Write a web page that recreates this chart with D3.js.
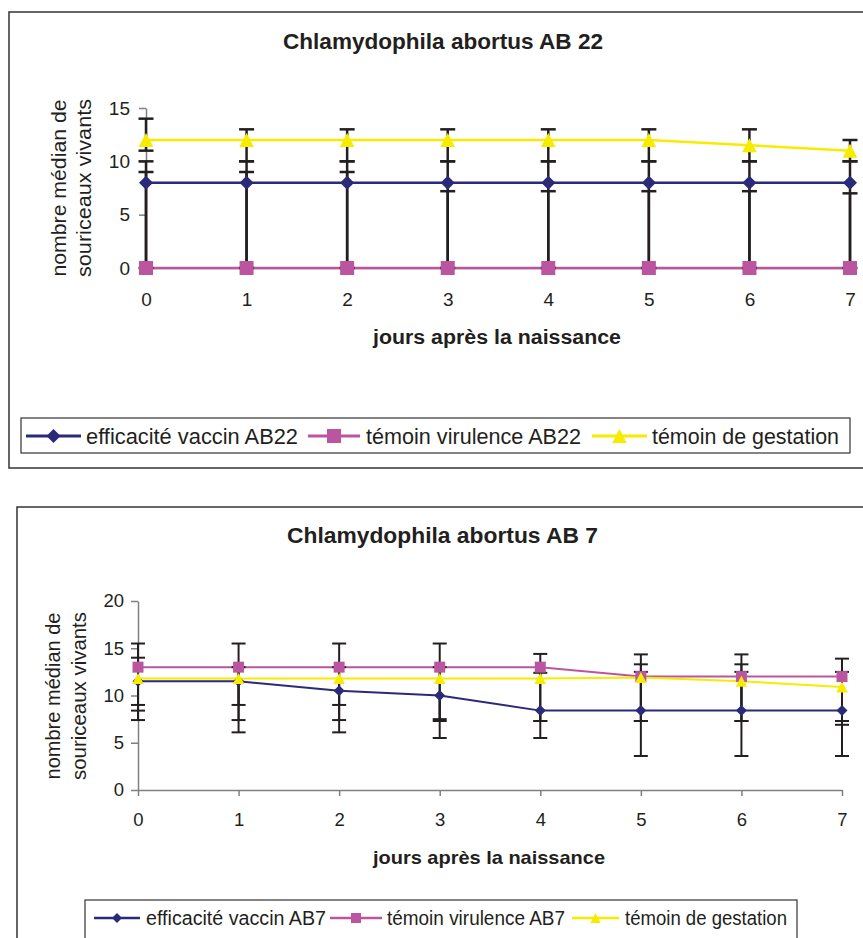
<!DOCTYPE html>
<html>
<head>
<meta charset="utf-8">
<script src="https://cdnjs.cloudflare.com/ajax/libs/d3/7.8.5/d3.min.js"></script>
<style>
  body { margin: 0; background: #fff; }
  svg { display: block; }
  text { font-family: "Liberation Sans", Arial, sans-serif; fill: #231f20; }
</style>
</head>
<body>
<svg id="chart" width="863" height="938"></svg>
<script>
// ---- data ----
const days = [0, 1, 2, 3, 4, 5, 6, 7];

// Chlamydophila abortus AB 22
const vaccinAB22 = [8, 8, 8, 8, 8, 8, 8, 8];
const vaccinAB22Lo = [0, 0, 0, 0, 0, 0, 0, 0];
const vaccinAB22Hi = [10, 10, 10, 10, 10, 10, 10, 10];
const virulenceAB22 = [0, 0, 0, 0, 0, 0, 0, 0];
const virulenceAB22Lo = [null, null, null, null, null, null, null, null];
const virulenceAB22Hi = [9, 9, 9, 7.2, 7.2, 7.2, 7.2, 7];
const gestationAB22 = [12, 12, 12, 12, 12, 12, 11.5, 11];
const gestationAB22Lo = [11, 10, 10, 10, 10, 10, 10, 10];
const gestationAB22Hi = [14, 13, 13, 13, 13, 13, 13, 12];

// Chlamydophila abortus AB 7
const vaccinAB7 = [11.5, 11.5, 10.5, 10, 8.4, 8.4, 8.4, 8.4];
const vaccinAB7Lo = [7.4, 6.1, 6.1, 5.5, 5.5, 3.6, 3.6, 3.6];
const vaccinAB7Hi = [null, null, null, null, null, 12.5, 12.5, null];
const virulenceAB7 = [13, 13, 13, 13, 13, 12, 12, 12];
const virulenceAB7Lo = [8.4, 7.4, 7.4, 7.3, 7.3, 7.3, 7.3, 6.9];
const virulenceAB7Hi = [15.5, 15.5, 15.5, 15.5, 14.4, 14.35, 14.35, 13.9];
const gestationAB7 = [11.8, 11.8, 11.8, 11.8, 11.8, 11.9, 11.5, 10.9];
const gestationAB7Lo = [9, 9, 9, 7.5, 7.3, 7.3, 7.3, 7.3];
const gestationAB7Hi = [14, 13, 13, 13, 12.4, 13.3, 13.3, 12.5];

const ticksAB22 = [0, 5, 10, 15];
const ticksAB7 = [0, 5, 10, 15, 20];

const COLORS = { vaccin: '#2a2a78', virulence: '#bb55a0', gestation: '#f7ec00' };
const ERR = '#231f20';

const svg = d3.select('#chart');

function markerPath(type, s) {
  const h = s / 2;
  if (type === 'diamond') return `M0,${-h}L${h},0L0,${h}L${-h},0Z`;
  if (type === 'square') return `M${-h},${-h}h${s}v${s}h${-s}Z`;
  return `M0,${-h}L${h * 1.05},${h}L${-h * 1.05},${h}Z`;
}

function drawChart(cfg) {
  const g = svg.append('g');

  g.append('rect')
    .attr('x', cfg.frame[0]).attr('y', cfg.frame[1])
    .attr('width', cfg.frame[2]).attr('height', cfg.frame[3])
    .attr('fill', 'none').attr('stroke', '#333').attr('stroke-width', 1.5);

  g.append('text')
    .attr('x', cfg.title.x).attr('y', cfg.title.y)
    .attr('text-anchor', 'middle')
    .attr('font-weight', 'bold').attr('font-size', cfg.title.size)
    .attr('textLength', cfg.title.len).attr('lengthAdjust', 'spacingAndGlyphs')
    .text(cfg.title.text);

  const x = d3.scaleLinear().domain([0, 7]).range(cfg.xRange);
  const y = d3.scaleLinear().domain([0, cfg.yMax]).range(cfg.yRange);

  // axes
  const yAxis = g.append('g')
    .attr('transform', `translate(${cfg.xRange[0]},0)`)
    .call(d3.axisLeft(y).tickValues(cfg.yTicks).tickFormat(d3.format('d'))
      .tickSize(7).tickSizeOuter(0).tickPadding(cfg.yPad));
  const xAxis = g.append('g')
    .attr('transform', `translate(0,${cfg.yRange[0]})`)
    .call(d3.axisBottom(x).tickValues(days).tickFormat(d3.format('d'))
      .tickSize(cfg.xTickSize).tickSizeOuter(0).tickPadding(cfg.xPad));
  [yAxis, xAxis].forEach(a => {
    a.select('.domain').attr('stroke', '#808080').attr('stroke-width', 1.5);
    a.selectAll('.tick line').attr('stroke', '#808080').attr('stroke-width', 1.5);
    a.selectAll('.tick text')
      .attr('font-family', cfg.tickFont).attr('font-size', cfg.tickSize).attr('fill', '#231f20');
  });

  // axis titles
  g.append('text')
    .attr('x', cfg.xLabel.x).attr('y', cfg.xLabel.y)
    .attr('text-anchor', 'middle').attr('font-weight', 'bold')
    .attr('font-size', cfg.xLabel.size)
    .attr('textLength', cfg.xLabel.len).attr('lengthAdjust', 'spacingAndGlyphs')
    .text('jours après la naissance');
  ['nombre médian de', 'souriceaux vivants'].forEach((t, i) => {
    g.append('text')
      .attr('transform', `translate(${cfg.yLabel.x[i]},${cfg.yLabel.y}) rotate(-90)`)
      .attr('text-anchor', 'middle').attr('font-size', cfg.yLabel.size)
      .attr('textLength', cfg.yLabel.len[i]).attr('lengthAdjust', 'spacingAndGlyphs')
      .text(t);
  });

  // series lines
  const line = d3.line().x((d, i) => x(days[i])).y(d => y(d));
  cfg.series.forEach(s => {
    g.append('path')
      .attr('d', line(s.values))
      .attr('fill', 'none').attr('stroke', COLORS[s.key]).attr('stroke-width', cfg.lineW);
  });

  // error bars
  const half = cfg.capW / 2;
  cfg.series.forEach(s => {
    s.values.forEach((v, i) => {
      const lo = s.lo[i] == null ? v : s.lo[i];
      const hi = s.hi[i] == null ? v : s.hi[i];
      const cx = x(days[i]);
      g.append('line')
        .attr('x1', cx).attr('x2', cx).attr('y1', y(lo)).attr('y2', y(hi))
        .attr('stroke', ERR).attr('stroke-width', cfg.errW);
      [s.lo[i], s.hi[i]].forEach(c => {
        if (c == null) return;
        g.append('line')
          .attr('x1', cx - half).attr('x2', cx + half).attr('y1', y(c)).attr('y2', y(c))
          .attr('stroke', ERR).attr('stroke-width', cfg.errW);
      });
    });
  });

  // markers
  cfg.series.forEach(s => {
    g.selectAll(null)
      .data(s.values)
      .enter()
      .append('path')
      .attr('transform', (d, i) => `translate(${x(days[i])},${y(d)})`)
      .attr('d', markerPath(s.marker, cfg.markerSize))
      .attr('fill', COLORS[s.key]);
  });

  // legend
  const L = cfg.legend;
  g.append('rect')
    .attr('x', L.box[0]).attr('y', L.box[1]).attr('width', L.box[2]).attr('height', L.box[3])
    .attr('fill', '#fff').attr('stroke', '#333').attr('stroke-width', 1.2);
  cfg.series.forEach((s, i) => {
    const it = L.items[i];
    g.append('line')
      .attr('x1', it.line[0]).attr('x2', it.line[1]).attr('y1', L.cy).attr('y2', L.cy)
      .attr('stroke', COLORS[s.key]).attr('stroke-width', cfg.lineW + 0.5);
    g.append('path')
      .attr('transform', `translate(${(it.line[0] + it.line[1]) / 2},${L.cy})`)
      .attr('d', markerPath(s.marker, L.markerSize))
      .attr('fill', COLORS[s.key]);
    g.append('text')
      .attr('x', it.text).attr('y', L.cy).attr('dy', '0.35em')
      .attr('font-size', L.size)
      .attr('textLength', it.len).attr('lengthAdjust', 'spacingAndGlyphs')
      .text(s.label);
  });
}

drawChart({
  frame: [9, 12, 870, 456],
  title: { text: 'Chlamydophila abortus AB 22', x: 443, y: 49, size: 22.5, len: 320 },
  xRange: [146, 850], yRange: [268, 108], yMax: 15, yTicks: ticksAB22,
  yPad: 9, xTickSize: 0, xPad: 25, tickSize: 19, tickFont: 'Liberation Sans',
  xLabel: { x: 497, y: 344, size: 19.5, len: 248 },
  yLabel: { x: [66, 91], y: 188, size: 21, len: [177, 178] },
  lineW: 2.5, errW: 2.5, capW: 15, markerSize: 14,
  series: [
    { key: 'vaccin', label: 'efficacité vaccin AB22', marker: 'diamond', values: vaccinAB22, lo: vaccinAB22Lo, hi: vaccinAB22Hi },
    { key: 'virulence', label: 'témoin virulence AB22', marker: 'square', values: virulenceAB22, lo: virulenceAB22Lo, hi: virulenceAB22Hi },
    { key: 'gestation', label: 'témoin de gestation', marker: 'triangle', values: gestationAB22, lo: gestationAB22Lo, hi: gestationAB22Hi }
  ],
  legend: {
    box: [21, 418, 829, 35], cy: 436, size: 21.5, markerSize: 14,
    items: [
      { line: [26, 81], text: 86, len: 212 },
      { line: [308, 360], text: 366, len: 215 },
      { line: [592, 647], text: 652, len: 187 }
    ]
  }
});

drawChart({
  frame: [17, 507, 870, 460],
  title: { text: 'Chlamydophila abortus AB 7', x: 442.5, y: 543, size: 21.5, len: 311 },
  xRange: [138, 842], yRange: [790, 601], yMax: 20, yTicks: ticksAB7,
  yPad: 7, xTickSize: 6, xPad: 17, tickSize: 18.5, tickFont: 'Liberation Sans',
  xLabel: { x: 489, y: 864, size: 18.5, len: 232 },
  yLabel: { x: [60, 86], y: 696, size: 20, len: [167, 168] },
  lineW: 2, errW: 2, capW: 14, markerSize: 11,
  series: [
    { key: 'vaccin', label: 'efficacité vaccin AB7', marker: 'diamond', values: vaccinAB7, lo: vaccinAB7Lo, hi: vaccinAB7Hi },
    { key: 'virulence', label: 'témoin virulence AB7', marker: 'square', values: virulenceAB7, lo: virulenceAB7Lo, hi: virulenceAB7Hi },
    { key: 'gestation', label: 'témoin de gestation', marker: 'triangle', values: gestationAB7, lo: gestationAB7Lo, hi: gestationAB7Hi }
  ],
  legend: {
    box: [85, 900, 712, 60], cy: 918, size: 20, markerSize: 10,
    items: [
      { line: [94, 140], text: 146, len: 180 },
      { line: [330, 382], text: 387, len: 178 },
      { line: [572, 619], text: 625, len: 162 }
    ]
  }
});
</script>
</body>
</html>
